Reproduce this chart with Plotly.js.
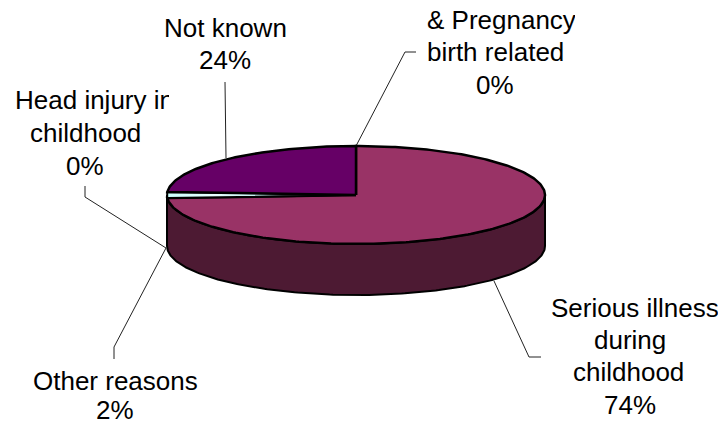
<!DOCTYPE html>
<html><head><meta charset="utf-8">
<script src="https://cdn.plot.ly/plotly-3.0.1.min.js"></script>
<style>html,body{margin:0;padding:0;background:#fff}#c{width:722px;height:426px}</style>
</head><body><div id="c"></div>
<script>
// Data
const categories = ["Pregnancy & birth related","Serious illness during childhood","Other reasons","Head injury in childhood","Not known"];
const values = [0,74,2,0,24];
const labelText = [["& Pregnancy","birth related","0%"],["Serious illness","during","childhood","74%"],["Other reasons","2%"],["Head injury in","childhood","0%"],["Not known","24%"]];
const sliceColors = ["#ffffcc","#993366","#ccffff","#660066","#660066"];
// Layout
const cx=356, cy=195, rx=189, ry=49, depth=51;
// per-line: centre x (or left edge + clip width), line centre y
const labelPos = [
 [{l:426,w:148,y:20},{x:495,y:52},{x:495,y:85}],
 [{l:550,w:167,y:308},{x:630,y:340},{x:628,y:372},{x:630,y:405}],
 [{x:115,y:381},{x:115,y:410}],
 [{l:14,w:154,y:100},{x:85,y:133},{x:85,y:166}],
 [{x:225,y:28},{x:225,y:60}]
];
const leaders = [
 "M356,146 L405,52 L416,52",
 "M494,281 L529,357 L541,357",
 "M166,248 L114,347 L114,359",
 "M166,248 L85,197 L85,186",
 "M226,158 L225,82"
];
const total = values.reduce((a,b)=>a+b,0);
const P = (deg,dy=0)=>[cx+rx*Math.sin(deg*Math.PI/180), cy-ry*Math.cos(deg*Math.PI/180)+dy];
function arc(a,b,dy=0){const o=[];const n=Math.max(1,Math.ceil(Math.abs(b-a)));for(let i=0;i<=n;i++)o.push(P(a+(b-a)*i/n,dy));return o;}
const traces=[];
const front=arc(90,270), back=arc(270,90,depth);
const wall=front.concat(back); wall.push(wall[0]);
traces.push({type:'scatter',mode:'lines',x:wall.map(p=>p[0]),y:wall.map(p=>p[1]),fill:'toself',fillcolor:'#4d1a33',line:{color:'#000',width:2},hoverinfo:'skip'});
let acc=0;
values.forEach((v,i)=>{
  const a=acc/total*360, b=(acc+v)/total*360; acc+=v;
  if(v===0) return;
  const pts=[[cx,cy]].concat(arc(a,b)); pts.push([cx,cy]);
  const t={type:'scatter',mode:'lines',name:categories[i],x:pts.map(p=>p[0]),y:pts.map(p=>p[1]),fill:'toself',fillcolor:sliceColors[i],line:{color:'#000',width:2.5},hoverinfo:'name'};
  if(categories[i]==="Other reasons"){
    t.fillgradient={type:'horizontal',colorscale:[[0,'#ccffff'],[0.25,'#e8ffff'],[0.5,'#bfeeee'],[0.7,'#444'],[1,'#000']]};
    t.line.width=2;
  }
  traces.push(t);
});
const annotations=[];
labelText.forEach((lines,i)=>lines.forEach((s,j)=>{
  const p=labelPos[i][j];
  const a={xref:'x',yref:'y',y:p.y,text:s,showarrow:false,yanchor:'middle',borderpad:0,
    font:{family:'Liberation Sans, Arial, sans-serif',size:26,color:'#000'}};
  if(p.w){a.x=p.l;a.xanchor='left';a.align='left';a.width=p.w;}
  else {a.x=p.x;a.xanchor='center';a.align='center';}
  annotations.push(a);
}));
const shapes=leaders.map(p=>({type:'path',path:p,xref:'x',yref:'y',line:{color:'#222',width:1},layer:'below'}));
Plotly.newPlot('c',traces,{
  width:722,height:426,margin:{l:0,r:0,t:0,b:0},paper_bgcolor:'#fff',plot_bgcolor:'#fff',showlegend:false,
  xaxis:{range:[0,722],visible:false,fixedrange:true},
  yaxis:{range:[426,0],visible:false,fixedrange:true},
  annotations,shapes
},{displayModeBar:false,responsive:false});
</script></body></html>
